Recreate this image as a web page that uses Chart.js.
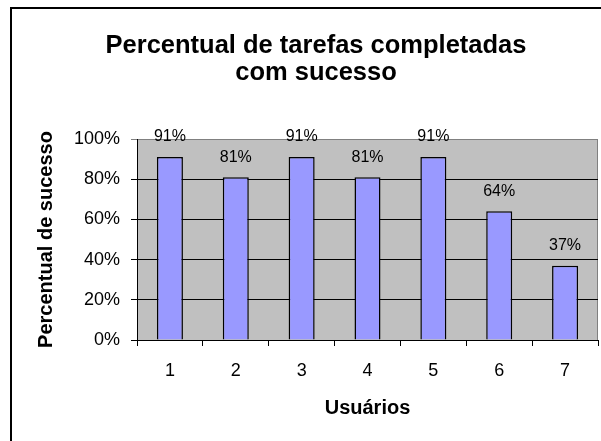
<!DOCTYPE html>
<html>
<head>
<meta charset="utf-8">
<script src="https://cdn.jsdelivr.net/npm/chart.js@4/dist/chart.umd.min.js"></script>
<style>
  html, body { margin: 0; padding: 0; background: #fff; overflow: hidden; }
  #wrap { position: relative; width: 601px; height: 441px; }
  #frame { position: absolute; left: 10px; top: 7px; width: 700px; height: 600px; border: 2px solid #000; }
  #chart { position: absolute; left: 0; top: 0; }
</style>
</head>
<body>
<div id="wrap">
  <div id="frame"></div>
  <canvas id="chart" width="601" height="441"></canvas>
</div>
<script>
// chart values
const users = ["1", "2", "3", "4", "5", "6", "7"];
const successPct = [91, 81, 91, 81, 91, 64, 37];
const yTicks = [0, 20, 40, 60, 80, 100];

const FONT = "'Liberation Sans', Arial, sans-serif";

// gray plot area like the old Excel charts
const plotArea = {
  id: "plotArea",
  beforeDraw(chart) {
    const { ctx, chartArea: a } = chart;
    ctx.save();
    ctx.fillStyle = "#C0C0C0";
    ctx.fillRect(a.left, a.top, a.right - a.left, a.bottom - a.top);
    ctx.strokeStyle = "#808080";
    ctx.lineWidth = 1;
    ctx.beginPath();
    ctx.moveTo(a.left, a.top + 0.5);
    ctx.lineTo(a.right - 0.5, a.top + 0.5);
    ctx.lineTo(a.right - 0.5, a.bottom);
    ctx.stroke();
    ctx.restore();
  },
};

// value labels above the bars
const barLabels = {
  id: "barLabels",
  afterDatasetsDraw(chart) {
    const { ctx } = chart;
    const meta = chart.getDatasetMeta(0);
    ctx.save();
    ctx.font = "16px " + FONT;
    ctx.fillStyle = "#000";
    ctx.textAlign = "center";
    ctx.textBaseline = "middle";
    meta.data.forEach((bar, i) => {
      ctx.fillText(successPct[i] + "%", bar.x, bar.y - 20);
    });
    ctx.restore();
  },
};

const ctx = document.getElementById("chart").getContext("2d");
const chart = new Chart(ctx, {
  type: "bar",
  data: {
    labels: users,
    datasets: [
      {
        data: successPct,
        backgroundColor: "#9999FF",
        borderColor: "#000",
        borderWidth: 1.5,
        categoryPercentage: 1,
        barPercentage: 0.395,
      },
    ],
  },
  options: {
    responsive: false,
    animation: false,
    layout: { padding: { top: 0, right: 3, bottom: 0, left: 34 } },
    plugins: {
      legend: { display: false },
      tooltip: { enabled: false },
      title: {
        display: true,
        text: ["Percentual de tarefas completadas", "com sucesso"],
        color: "#000",
        font: { family: FONT, size: 25.5, weight: "bold", lineHeight: 27 / 25.5 },
        padding: { top: 32, bottom: 53 },
      },
    },
    scales: {
      x: {
        grid: {
          offset: true,
          drawOnChartArea: false,
          color: "#000",
          tickLength: 6,
        },
        border: { color: "#000", width: 1 },
        ticks: { color: "#000", font: { family: FONT, size: 18 }, padding: 14 },
        title: {
          display: true,
          text: "Usuários",
          color: "#000",
          font: { family: FONT, size: 20, weight: "bold" },
          padding: { top: 0, bottom: 21 },
        },
        afterFit(scale) {
          scale.height = 101;
        },
      },
      y: {
        min: 0,
        max: 100,
        afterBuildTicks(scale) {
          scale.ticks = yTicks.map((v) => ({ value: v }));
        },
        grid: {
          color: (c) => (c.tick && c.tick.value === 100 ? "#808080" : "#000"),
          tickLength: 6,
        },
        border: { color: "#000", width: 1 },
        ticks: {
          color: "#000",
          font: { family: FONT, size: 18 },
          padding: 11,
          callback: (v) => v + "%",
        },
        title: {
          display: true,
          text: "Percentual de sucesso",
          color: "#000",
          font: { family: FONT, size: 20, weight: "bold" },
          padding: { top: 0, bottom: 0 },
        },
        afterFit(scale) {
          scale.width = 103;
        },
      },
    },
  },
  plugins: [plotArea, barLabels],
});
</script>
</body>
</html>
